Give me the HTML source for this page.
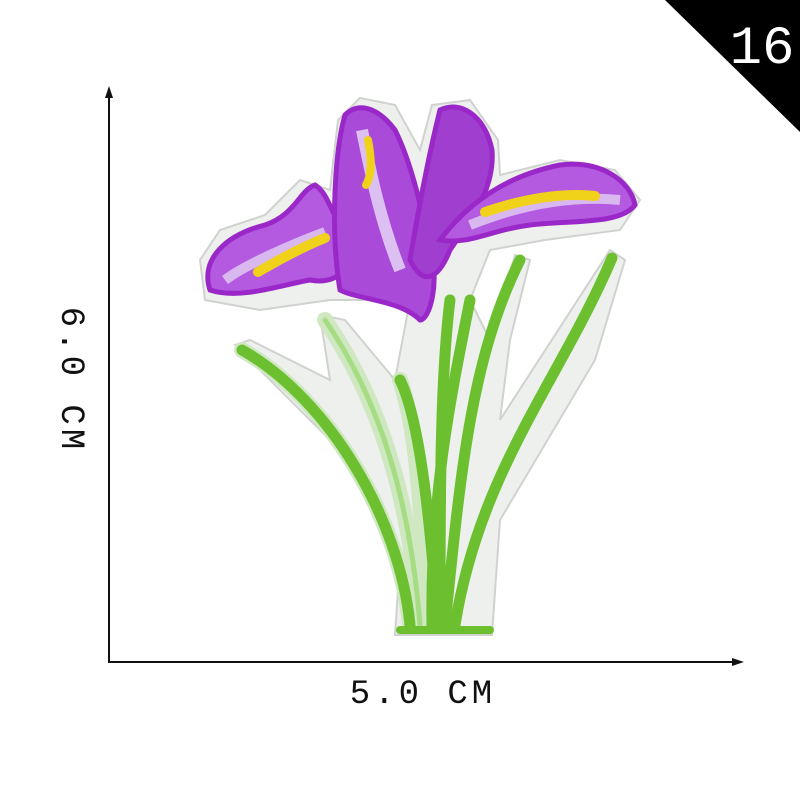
<!DOCTYPE html>
<html><head><meta charset="utf-8"><style>
html,body{margin:0;padding:0;background:#fff;}
svg{display:block;}
text{font-family:"Liberation Mono",monospace;}
</style></head><body>
<svg width="800" height="800" viewBox="0 0 800 800">
  <rect width="800" height="800" fill="#fff"/>
  <g>
    <polygon points="665,0 800,0 800,132" fill="#000"/>
    <text x="762" y="63" fill="#fff" font-family="Liberation Sans,sans-serif" font-size="54" text-anchor="middle">16</text>
  </g>
  <g stroke="#111" stroke-width="2" fill="#111">
    <line x1="109" y1="95" x2="109" y2="663"/>
    <polygon points="109,86 105,98 113,98" stroke="none"/>
    <line x1="108" y1="662" x2="736" y2="662"/>
    <polygon points="744,662 732,658 732,666" stroke="none"/>
  </g>
  <text x="423" y="703" font-size="34" text-anchor="middle" fill="#111" letter-spacing="4">5.0 CM</text>
  <text x="0" y="0" font-size="34" text-anchor="middle" fill="#111" letter-spacing="4" transform="translate(62,380) rotate(90)">6.0 CM</text>

  <g fill="#eef0ee" stroke="#d0d2d0" stroke-width="2">
    <path d="M395,635 L400,560 L340,450 L235,345 L250,340 L330,380 L320,315 L345,320 L395,380 L410,300 L330,300 L260,310 L205,300 L200,260 L220,230 L265,215 L300,180 L330,190 L338,120 L360,98 L395,105 L420,150 L432,105 L470,100 L498,140 L500,175 L560,160 L615,170 L640,200 L620,230 L545,240 L490,250 L470,300 L490,340 L515,255 L530,260 L510,340 L500,420 L610,250 L625,260 L595,360 L500,520 L492,635 Z"/>
  </g>

  <g fill="none" stroke-linecap="round">
    <g stroke="#cfe8c2" stroke-width="16">
      <path d="M410,625 C400,520 330,400 242,350"/>
      <path d="M420,625 C410,500 380,400 325,320"/>
      <path d="M430,625 C420,520 420,440 400,380"/>
    </g>
    <g stroke="#6cc030" stroke-width="11">
      <path d="M410,625 C400,520 330,400 242,350"/>
      <path d="M432,625 C430,500 450,400 470,300"/>
      <path d="M445,625 C460,480 470,360 520,260"/>
      <path d="M455,625 C480,470 560,380 612,258"/>
      <path d="M438,625 C430,520 420,420 400,380"/>
      <path d="M440,625 C440,500 440,380 450,300"/>
    </g>
    <g stroke="#a6dc82" stroke-width="5">
      <path d="M420,625 C410,500 380,400 325,320"/>
    </g>
    <path d="M400,630 L490,630" stroke="#6cc030" stroke-width="8"/>
  </g>

  <g stroke="#9a28c8" stroke-width="5">
    <path d="M210,290 C200,260 225,235 265,225 C295,215 300,190 315,185 C330,195 330,215 350,240 C355,270 335,285 310,280 C280,285 240,300 210,290 Z" fill="#b45ae0"/>
    <path d="M225,280 C245,265 290,245 325,232" stroke="#d9b8f0" stroke-width="10" fill="none"/>
    <path d="M258,272 C275,262 300,248 325,238" stroke="#f1d21a" stroke-width="10" fill="none" stroke-linecap="round"/>
    <path d="M340,290 C330,230 335,150 345,115 C360,100 380,110 395,130 C410,160 420,200 430,250 C440,280 430,320 420,320 C400,300 360,300 340,290 Z" fill="#a94ad8"/>
    <path d="M362,130 C370,170 380,220 400,270" stroke="#dcc0f2" stroke-width="12" fill="none"/>
    <path d="M368,140 C372,160 372,175 366,185" stroke="#f1d21a" stroke-width="8" fill="none" stroke-linecap="round"/>
    <path d="M410,260 C420,200 430,150 440,110 C460,100 485,115 492,150 C495,190 470,220 450,250 C440,275 425,290 410,260 Z" fill="#a03ed0"/>
    <path d="M440,240 C470,200 510,175 560,165 C600,160 630,180 635,205 C620,225 570,220 530,225 C490,230 470,245 440,240 Z" fill="#b45ae0"/>
    <path d="M470,225 C520,205 570,195 620,200" stroke="#d9b8f0" stroke-width="10" fill="none"/>
    <path d="M485,212 C520,200 560,192 595,196" stroke="#f1d21a" stroke-width="10" fill="none" stroke-linecap="round"/>
  </g>
</svg>
</body></html>
